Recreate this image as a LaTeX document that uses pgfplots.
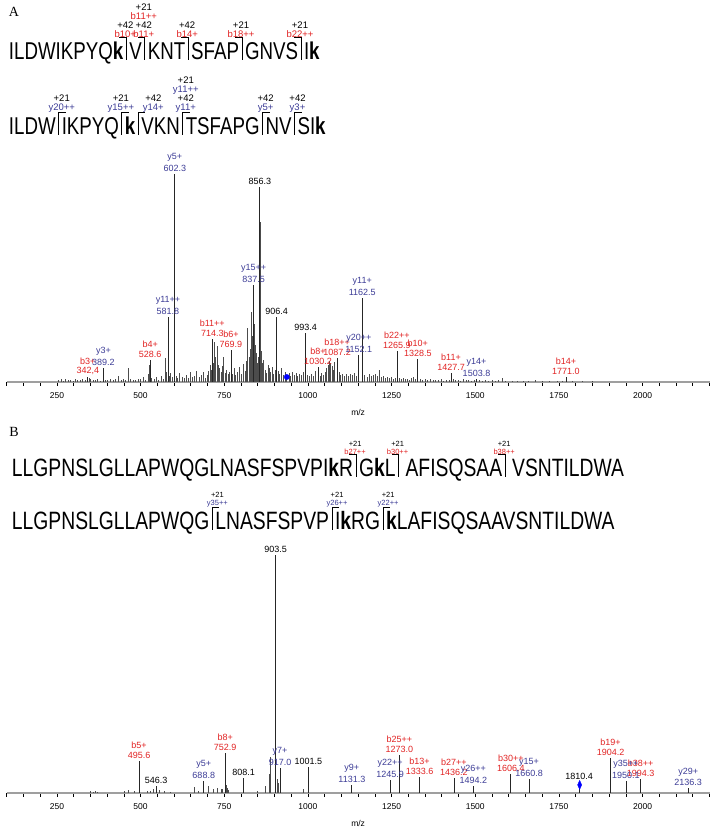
\documentclass[border=0pt]{standalone}
\usepackage{pgfplots}
\pgfplotsset{compat=1.18}
\usepackage{pgfplotstable}
\usepackage{graphicx}
\usepackage{fontspec}
\setmainfont{Liberation Sans}
\newfontfamily\panelfont{Liberation Serif}
\definecolor{ionred}{RGB}{225,35,35}
\definecolor{ionblue}{RGB}{60,60,150}

% annotated peaks, panel A (m/z, relative intensity %)
\pgfplotstableread{
mz h ion lab
342.4 2.4 b3+ 342,4
528.6 10.6 b4+ 528.6
714.3 20.7 b11++ 714.3
769.9 15.4 b6+ 769.9
1030.2 7.2 b8+ 1030.2
1087.2 11.5 b18++ 1087.2
1265.9 14.9 b22++ 1265.9
1328.5 11.0 b10+ 1328.5
1427.7 4.3 b11+ 1427.7
1771.0 2.4 b14+ 1771.0
}\Ared
\pgfplotstableread{
mz h ion lab
389.2 6.7 y3+ 389.2
581.8 31.3 y11++ 581.8
602.3 100 y5+ 602.3
837.5 46.6 y15++ 837.5
1152.1 13.0 y20++ 1152.1
1162.5 40.4 y11+ 1162.5
1503.8 1.5 y14+ 1503.8
}\Ablue
\pgfplotstableread{
mz h lab
856.3 93.8 856.3
906.4 31.3 906.4
993.4 23.6 993.4
}\Ablack
\pgfplotstableread{
mz h
255 0.8
262 1.2
270 0.6
276 1.5
283 0.9
291 1.1
298 0.7
305 1.3
312 0.8
320 1.0
327 1.6
334 0.9
340 1.8
347 2.0
351 1.2
358 0.8
366 1.0
372 1.4
380 0.7
396 1.1
402 0.8
410 1.3
418 0.9
425 1.2
433 3.0
441 1.0
448 1.6
455 0.9
462 6.7
470 1.4
478 1.1
485 0.8
492 1.5
500 1.2
507 2.2
515 1.0
522 4.0
525 8.0
533 2.0
540 1.3
547 2.5
554 1.1
561 2.8
567 1.6
575 11.5
578 5.0
586 3.0
590 4.5
596 2.2
606 3.0
611 2.0
617 4.2
624 2.6
630 1.8
637 3.4
643 2.1
650 4.6
656 2.5
662 3.0
668 5.2
674 2.4
680 3.3
686 4.8
692 2.0
698 3.5
703 5.5
708 8.0
711 6.0
717 9.0
720 19.0
724 12.0
728 17.5
732 8.0
736 6.5
740 5.0
744 7.5
748 12.0
752 4.5
757 6.0
762 3.8
766 5.0
774 4.0
779 6.5
784 3.5
790 5.0
796 7.0
802 4.0
808 8.5
813 5.5
817 10.0
820 26.0
824 12.0
828 16.0
832 33.6
835 22.0
840 28.0
843 18.0
846 14.0
849 9.0
852 12.0
854 20.0
858 77.0
861 15.0
864 9.0
868 10.5
872 6.0
876 4.5
881 8.0
885 6.5
889 5.0
893 7.0
898 4.0
902 6.0
911 5.5
916 4.0
921 6.5
926 3.5
931 5.0
936 3.0
943 4.5
948 3.0
953 5.0
958 3.5
964 4.2
969 2.8
974 4.0
980 3.2
986 5.0
998 3.5
1004 2.8
1010 4.0
1016 3.0
1022 5.5
1036 3.0
1041 4.5
1046 3.5
1051 5.0
1056 6.5
1060 8.0
1064 10.0
1068 9.0
1072 7.5
1076 6.0
1080 9.5
1093 5.0
1098 3.5
1104 4.0
1110 3.0
1116 3.8
1122 2.8
1128 4.0
1134 3.2
1140 4.5
1146 3.0
1170 3.5
1176 2.5
1182 3.8
1188 2.8
1194 3.5
1200 4.0
1206 3.0
1212 5.8
1218 2.5
1224 3.0
1230 2.0
1236 2.5
1242 1.8
1248 2.2
1254 1.5
1260 2.0
1272 1.8
1278 1.4
1284 2.0
1290 1.2
1296 1.6
1302 1.0
1310 1.8
1316 2.5
1322 1.2
1336 1.5
1342 1.0
1350 1.4
1358 0.9
1366 1.2
1374 0.8
1382 1.1
1390 0.8
1398 1.2
1406 0.7
1414 1.0
1422 0.8
1434 1.5
1440 0.8
1448 1.0
1456 0.7
1464 1.2
1472 0.9
1480 1.1
1488 0.7
1496 0.9
1512 0.8
1520 0.6
1530 0.9
1540 0.6
1552 1.0
1560 0.7
1570 0.8
1582 1.8
1590 0.6
1610 0.5
1625 0.7
1645 0.5
1660 0.6
1680 0.9
1700 0.6
1720 0.5
1745 0.6
1760 0.7
1790 0.4
1820 0.4
1850 0.3
}\Anoise

% annotated peaks, panel B
\pgfplotstableread{
mz h ion lab
495.6 13.4 b5+ 495.6
752.9 16.8 b8+ 752.9
1273.0 16.0 b25++ 1273.0
1333.6 6.7 b13+ 1333.6
1436.2 6.3 b27++ 1436.2
1606.4 8.0 b30++ 1606.4
1904.2 14.7 b19+ 1904.2
1994.3 6.0 b38++ 1994.3
}\Bred
\pgfplotstableread{
mz h ion lab
688.8 5.0 y5+ 688.8
917.0 10.5 y7+ 917.0
1131.3 3.4 y9+ 1131.3
1245.9 5.5 y22++ 1245.9
1494.2 3.0 y26++ 1494.2
1660.8 5.9 y15+ 1660.8
1950.1 5.0 y35++ 1950.1
2136.3 2.0 y29+ 2136.3
}\Bblue
\pgfplotstableread{
mz h lab
546.3 3.0 546.3
808.1 6.3 808.1
903.5 100 903.5
1001.5 11.0 1001.5
1810.4 4.5 1810.4
}\Bblack
\pgfplotstableread{
mz h
350 0.8
358 0.6
365 0.9
372 0.5
450 0.7
462 1.2
480 1.0
520 0.8
528 1.0
538 1.5
556 1.2
570 0.8
590 0.6
660 2.5
672 1.0
702 3.0
718 1.5
728 2.0
740 1.8
745 1.5
755 3.5
758 2.0
762 1.2
850 1.0
872 3.0
885 8.0
889 15.0
908 6.0
913 4.0
985 1.5
}\Bnoise

\pgfplotsset{
  spec/.style={
    scale only axis, width=702.8pt, xmin=100, xmax=2200, ymin=0, ymax=100,
    enlargelimits=false, clip=false,
    axis x line=bottom, axis y line=none,
    axis line style={-, gray!75, line width=1.6pt},
    xtick={250,500,...,2000}, minor xtick={100,150,...,2200},
    tick align=outside, major tick length=4pt, minor tick length=4pt,
    tick style={black, line width=0.6pt},
    xticklabel style={font=\fontsize{8.5}{9}\selectfont, yshift=-3pt},
    /pgf/number format/assume math mode=true,
    /pgf/number format/1000 sep={},
    xlabel={m/z},
    xlabel style={font=\fontsize{8.5}{9}\selectfont, at={(axis description cs:0.5,0)}, anchor=center, yshift=-30pt},
  },
  peak/.style={ycomb, black!85, line width=0.7pt, no marks},
  % m/z value just above the peak
  mzlab/.style={point meta=explicit symbolic, nodes near coords,
    nodes near coords style={font=\fontsize{9}{9}\selectfont, inner sep=0.5pt, anchor=south, yshift=1.5pt, text=#1}},
  % ion name one line higher
  ionlab/.style={draw=none, point meta=explicit symbolic, nodes near coords,
    nodes near coords style={font=\fontsize{9}{9}\selectfont, inner sep=0.5pt, anchor=south, yshift=11.5pt, text=#1}},
}
\tikzset{
  sq/.style={font=\fontsize{#1}{20}\selectfont, inner sep=0pt, outer sep=0pt, anchor=base west},
  cut/.style={line width=1pt, black},
  tag/.style={font=\fontsize{9.5}{9}\selectfont, align=center, inner sep=0.5pt, anchor=south},
  tagB/.style={font=\fontsize{7.5}{8}\selectfont, align=center, inner sep=0.5pt, anchor=south},
}
\newcommand\sqt[1]{\scalebox{1}[1.3]{#1}}
\newcommand\bcut[3][tag]{%
  \draw[cut] ([xshift=3pt]#2.base east) -- ++(0,22pt) -- ++(-7pt,0);
  \node[#1] at ([xshift=2pt,yshift=22pt]#2.base east) {#3};}
\newcommand\ycut[4][tag]{%
  \draw[cut] ([xshift=3pt]#2.base east) -- ++(0,22pt) -- ++(7pt,0);
  \node[#1] at ([xshift=#3,yshift=22pt]#2.base east) {#4};}

\begin{document}
\begin{tikzpicture}
\useasboundingbox (0,0) rectangle (713pt,829pt);

% ---- panel A ----
\node[font=\panelfont\fontsize{14}{14}\selectfont] at (14pt,817pt) {A};
\node[sq=18.7] (a1) at (9pt,769pt) {\sqt{ILDWIKPYQ\textbf{k}}};
\node[sq=18.7] (a2) at ([xshift=6pt]a1.base east) {\sqt{V}};
\node[sq=18.7] (a3) at ([xshift=6pt]a2.base east) {\sqt{KNT}};
\node[sq=18.7] (a4) at ([xshift=6pt]a3.base east) {\sqt{SFAP}};
\node[sq=18.7] (a5) at ([xshift=6pt]a4.base east) {\sqt{GNVS}};
\node[sq=18.7] (a6) at ([xshift=6pt]a5.base east) {\sqt{I\textbf{k}}};
\bcut{a1}{+42\\\textcolor{ionred}{b10+}}
\bcut{a2}{+21\\\textcolor{ionred}{b11++}\\+42\\\textcolor{ionred}{b11+}}
\bcut{a3}{+42\\\textcolor{ionred}{b14+}}
\bcut{a4}{+21\\\textcolor{ionred}{b18++}}
\bcut{a5}{+21\\\textcolor{ionred}{b22++}}

\node[sq=18.7] (c1) at (9pt,694pt) {\sqt{ILDW}};
\node[sq=18.7] (c2) at ([xshift=6pt]c1.base east) {\sqt{IKPYQ}};
\node[sq=18.7] (c3) at ([xshift=6pt]c2.base east) {\sqt{\textbf{k}}};
\node[sq=18.7] (c4) at ([xshift=6pt]c3.base east) {\sqt{VKN}};
\node[sq=18.7] (c5) at ([xshift=6pt]c4.base east) {\sqt{TSFAPG}};
\node[sq=18.7] (c6) at ([xshift=6pt]c5.base east) {\sqt{NV}};
\node[sq=18.7] (c7) at ([xshift=6pt]c6.base east) {\sqt{SI\textbf{k}}};
\ycut{c1}{6pt}{+21\\\textcolor{ionblue}{y20++}}
\ycut{c2}{2pt}{+21\\\textcolor{ionblue}{y15++}}
\ycut{c3}{18pt}{+42\\\textcolor{ionblue}{y14+}}
\ycut{c4}{6pt}{+21\\\textcolor{ionblue}{y11++}\\+42\\\textcolor{ionblue}{y11+}}
\ycut{c5}{6pt}{+42\\\textcolor{ionblue}{y5+}}
\ycut{c6}{6pt}{+42\\\textcolor{ionblue}{y3+}}

\begin{axis}[spec, height=208pt, at={(6.7pt,447pt)}, anchor=south west]
  \addplot[peak, black!70, line width=0.6pt] table[x=mz,y=h]{\Anoise};
  \addplot[peak, mzlab=ionred] table[x=mz,y=h,meta=lab]{\Ared};
  \addplot[peak, ionlab=ionred] table[x=mz,y=h,meta=ion]{\Ared};
  \addplot[peak, mzlab=ionblue] table[x=mz,y=h,meta=lab]{\Ablue};
  \addplot[peak, ionlab=ionblue] table[x=mz,y=h,meta=ion]{\Ablue};
  \addplot[peak, mzlab=black] table[x=mz,y=h,meta=lab]{\Ablack};
  \addplot[only marks, mark=*, mark size=2.6pt, blue] coordinates {(937,2.4)};
\end{axis}

% ---- panel B ----
\node[font=\panelfont\fontsize{14}{14}\selectfont] at (14pt,397pt) {B};
\node[sq=19.3] (b1) at (12pt,352pt) {\sqt{LLGPNSLGLLAPWQGLNASFSPVPI\textbf{k}R}};
\node[sq=19.3] (b2) at ([xshift=6pt]b1.base east) {\sqt{G\textbf{k}L}};
\node[sq=19.3] (b3) at ([xshift=10pt]b2.base east) {\sqt{AFISQSAA}};
\node[sq=19.3] (b4) at ([xshift=10pt]b3.base east) {\sqt{VSNTILDWA}};
\bcut[tagB]{b1}{+21\\\textcolor{ionred}{b27++}}
\bcut[tagB]{b2}{+21\\\textcolor{ionred}{b30++}}
\bcut[tagB]{b3}{+21\\\textcolor{ionred}{b38++}}

\node[sq=19.3] (d1) at (12pt,299pt) {\sqt{LLGPNSLGLLAPWQG}};
\node[sq=19.3] (d2) at ([xshift=6pt]d1.base east) {\sqt{LNASFSPVP}};
\node[sq=19.3] (d3) at ([xshift=6pt]d2.base east) {\sqt{I\textbf{k}RG}};
\node[sq=19.3] (d4) at ([xshift=6pt]d3.base east) {\sqt{\textbf{k}LAFISQSAAVSNTILDWA}};
\ycut[tagB]{d1}{8pt}{+21\\\textcolor{ionblue}{y35++}}
\ycut[tagB]{d2}{8pt}{+21\\\textcolor{ionblue}{y26++}}
\ycut[tagB]{d3}{8pt}{+21\\\textcolor{ionblue}{y22++}}

\begin{axis}[spec, height=238pt, at={(6.7pt,36pt)}, anchor=south west]
  \addplot[peak, black!70, line width=0.6pt] table[x=mz,y=h]{\Bnoise};
  \addplot[peak, mzlab=ionred] table[x=mz,y=h,meta=lab]{\Bred};
  \addplot[peak, ionlab=ionred] table[x=mz,y=h,meta=ion]{\Bred};
  \addplot[peak, mzlab=ionblue] table[x=mz,y=h,meta=lab]{\Bblue};
  \addplot[peak, ionlab=ionblue] table[x=mz,y=h,meta=ion]{\Bblue};
  \addplot[peak, mzlab=black] table[x=mz,y=h,meta=lab]{\Bblack};
  \addplot[only marks, mark=diamond*, mark size=4.5pt, mark options={xscale=0.6}, blue] coordinates {(1812,3.4)};
\end{axis}
\end{tikzpicture}
\end{document}
